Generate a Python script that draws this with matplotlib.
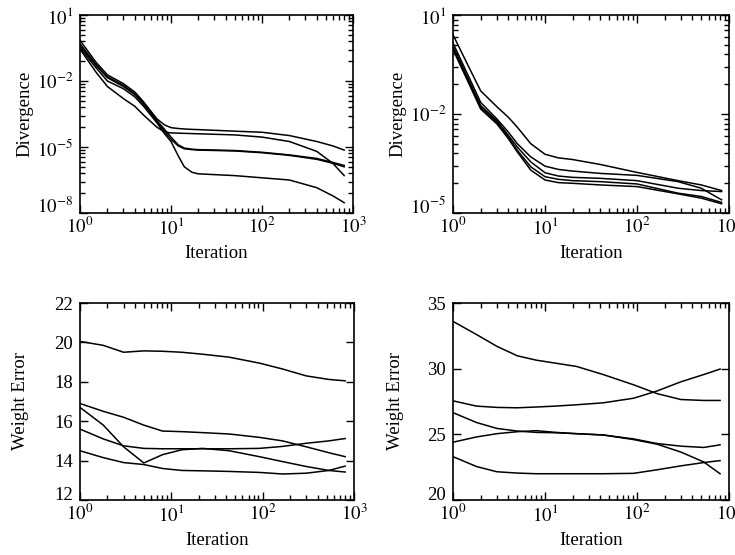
import numpy as np
import matplotlib
matplotlib.use("Agg")
import matplotlib.pyplot as plt
from matplotlib.ticker import FixedLocator, NullFormatter, LogLocator

plt.rcParams['font.family'] = ['Liberation Serif', 'DejaVu Serif']
plt.rcParams['mathtext.fontset'] = 'stix'

# top-left: divergence (log10 of value)
it_a = [1, 1.5, 2, 3, 4, 5, 7, 8.5, 10, 12, 14, 17, 20, 50, 100, 200, 400, 600, 800]
div_a1 = [-0.15, -1.15, -1.72, -2.12, -2.5, -2.95, -3.72, -4.0, -4.12, -4.16, -4.18, -4.2, -4.21, -4.28, -4.33, -4.48, -4.75, -4.95, -5.14]
div_a2 = [-0.55, -1.6, -2.25, -2.8, -3.15, -3.55, -4.1, -4.32, -4.36, -4.37, -4.38, -4.39, -4.4, -4.45, -4.55, -4.75, -5.2, -5.74, -6.3]
div_a3 = [-0.3, -1.25, -1.8, -2.2, -2.58, -3.0, -3.8, -4.2, -4.55, -4.9, -5.05, -5.1, -5.12, -5.16, -5.24, -5.36, -5.52, -5.7, -5.84]
div_a4 = [-0.4, -1.3, -1.85, -2.25, -2.62, -3.05, -3.85, -4.3, -4.65, -4.95, -5.08, -5.12, -5.14, -5.18, -5.26, -5.38, -5.56, -5.74, -5.9]
div_a5 = [-0.5, -1.4, -2.0, -2.35, -2.72, -3.15, -3.9, -4.4, -4.75, -5.4, -5.9, -6.15, -6.22, -6.3, -6.4, -6.5, -6.85, -7.22, -7.53]

# top-right: divergence (log10 of value)
it_b = [1, 1.5, 2, 3, 4, 5, 7, 10, 14, 20, 40, 100, 280, 500, 830]
div_b1 = [0.4, -0.6, -1.3, -1.78, -2.1, -2.4, -2.9, -3.22, -3.33, -3.38, -3.53, -3.77, -4.02, -4.15, -4.32]
div_b2 = [0.15, -0.9, -1.65, -2.15, -2.55, -2.9, -3.3, -3.58, -3.68, -3.73, -3.8, -3.86, -4.05, -4.25, -4.6]
div_b3 = [0.05, -1.0, -1.75, -2.2, -2.65, -3.0, -3.45, -3.78, -3.88, -3.92, -3.95, -4.02, -4.25, -4.32, -4.35]
div_b4 = [0.0, -1.05, -1.8, -2.25, -2.7, -3.1, -3.6, -3.9, -3.98, -4.02, -4.05, -4.12, -4.4, -4.5, -4.68]
div_b5 = [-0.05, -1.1, -1.85, -2.3, -2.75, -3.15, -3.7, -4.0, -4.08, -4.1, -4.15, -4.2, -4.42, -4.55, -4.72]

# bottom: weight error
it_w = [1, 1.8, 3, 5, 8, 13, 22, 43, 92, 165, 300, 530, 800]
we_c1 = [20.05, 19.85, 19.5, 19.57, 19.55, 19.5, 19.4, 19.25, 18.95, 18.65, 18.3, 18.12, 18.05]
we_c2 = [16.9, 16.5, 16.2, 15.8, 15.5, 15.47, 15.42, 15.35, 15.18, 15.0, 14.7, 14.4, 14.2]
we_c3 = [16.7, 15.8, 14.7, 13.88, 14.3, 14.55, 14.62, 14.5, 14.2, 13.95, 13.7, 13.5, 13.42]
we_c4 = [15.6, 15.1, 14.75, 14.62, 14.6, 14.6, 14.6, 14.6, 14.62, 14.72, 14.88, 15.0, 15.12]
we_c5 = [14.5, 14.15, 13.9, 13.8, 13.6, 13.5, 13.48, 13.45, 13.4, 13.32, 13.36, 13.5, 13.72]

we_d1 = [33.6, 32.6, 31.7, 30.98, 30.65, 30.42, 30.17, 29.55, 28.77, 28.1, 27.65, 27.58, 27.58]
we_d2 = [27.55, 27.15, 27.05, 27.02, 27.08, 27.15, 27.25, 27.4, 27.75, 28.3, 29.0, 29.55, 29.97]
we_d3 = [26.65, 25.9, 25.45, 25.25, 25.15, 25.12, 25.05, 24.95, 24.6, 24.25, 23.65, 22.9, 22.0]
we_d4 = [24.4, 24.8, 25.05, 25.2, 25.28, 25.15, 25.05, 24.95, 24.65, 24.3, 24.1, 24.0, 24.2]
we_d5 = [23.3, 22.55, 22.15, 22.05, 22.0, 22.0, 22.0, 22.0, 22.03, 22.3, 22.6, 22.85, 23.0]

fig = plt.figure(figsize=(7.35, 5.55), dpi=100)
W, H = 735, 555
ax1 = fig.add_axes([80 / W, (H - 213) / H, 273 / W, 198 / H])
ax2 = fig.add_axes([453 / W, (H - 213) / H, 276 / W, 198 / H])
ax3 = fig.add_axes([80 / W, (H - 500) / H, 274 / W, 197 / H])
ax4 = fig.add_axes([453 / W, (H - 500) / H, 276 / W, 197 / H])


def style(ax):
    ax.set_xscale('log')
    ax.set_xlim(1, 1000)
    ax.xaxis.set_major_locator(FixedLocator([1, 10, 100, 1000]))
    ax.xaxis.set_minor_locator(LogLocator(base=10, subs=np.arange(2, 10)))
    ax.xaxis.set_minor_formatter(NullFormatter())
    ax.set_xticklabels([r'$10^{%d}$' % e for e in range(0, 4)])
    ax.tick_params(which='both', direction='in', top=True, right=True,
                   labelsize=13.5, width=1.0)
    ax.tick_params(axis='x', pad=3)
    ax.tick_params(axis='y', pad=5)
    ax.tick_params(which='major', length=6)
    ax.tick_params(which='minor', length=3.5)
    for s in ax.spines.values():
        s.set_linewidth(1.2)
    ax.set_xlabel('Iteration', fontsize=13.5, labelpad=5)


def log_y(ax, lo, hi):
    ax.set_yscale('log')
    ax.set_ylim(10.0 ** lo, 10.0 ** hi)
    majors = [10.0 ** e for e in range(lo, hi + 1, 3)]
    ax.yaxis.set_major_locator(FixedLocator(majors))
    minors = [10.0 ** (e + 3 * np.log10(m)) for e in range(lo, hi, 3) for m in range(2, 10)]
    ax.yaxis.set_minor_locator(FixedLocator(minors))
    ax.yaxis.set_minor_formatter(NullFormatter())
    ax.set_yticklabels([r'$10^{%d}$' % e for e in range(lo, hi + 1, 3)])
    ax.set_ylabel('Divergence', fontsize=13.5, labelpad=2)


style(ax1)
for d in [div_a1, div_a2, div_a3, div_a4, div_a5]:
    ax1.plot(it_a, 10.0 ** np.array(d), color='black', lw=1.1)
log_y(ax1, -8, 1)

style(ax2)
for d in [div_b1, div_b2, div_b3, div_b4, div_b5]:
    ax2.plot(it_b, 10.0 ** np.array(d), color='black', lw=1.1)
log_y(ax2, -5, 1)

style(ax3)
for d in [we_c1, we_c2, we_c3, we_c4, we_c5]:
    ax3.plot(it_w, d, color='black', lw=1.1)
ax3.set_ylim(12, 22)
ax3.set_yticks([12, 14, 16, 18, 20, 22])
ax3.set_ylabel('Weight Error', fontsize=13.5, labelpad=18)

style(ax4)
for d in [we_d1, we_d2, we_d3, we_d4, we_d5]:
    ax4.plot(it_w, d, color='black', lw=1.1)
ax4.set_ylim(20, 35)
ax4.set_yticks([20, 25, 30, 35])
ax4.set_ylabel('Weight Error', fontsize=13.5, labelpad=17)

# lowest y label sits a little above the corner, as in the scan
for ax in [ax1, ax2, ax3, ax4]:
    ax.yaxis.get_major_ticks()[0].label1.set_va('baseline')

fig.savefig('out.png', dpi=100)
